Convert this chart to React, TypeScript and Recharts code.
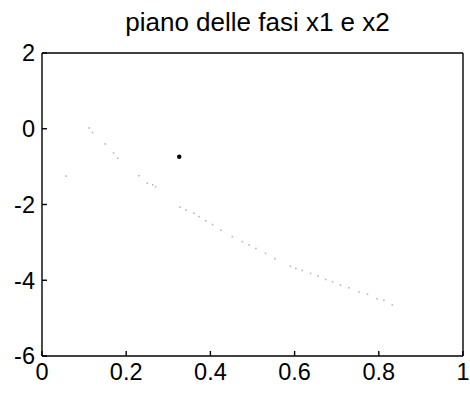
import React from 'react';
import { ScatterChart, Scatter, XAxis, YAxis } from 'recharts';

const curveX = [0.112, 0.12, 0.15, 0.17, 0.18, 0.23, 0.25, 0.263, 0.27, 0.328, 0.342, 0.361, 0.373, 0.389, 0.405, 0.425, 0.452, 0.476, 0.492, 0.508, 0.531, 0.553, 0.59, 0.603, 0.618, 0.638, 0.656, 0.674, 0.69, 0.709, 0.729, 0.753, 0.773, 0.796, 0.812, 0.832, 0.057];
const curveY = [0.02, -0.1, -0.4, -0.64, -0.78, -1.24, -1.44, -1.48, -1.53, -2.07, -2.15, -2.23, -2.32, -2.43, -2.53, -2.68, -2.85, -2.98, -3.07, -3.16, -3.29, -3.43, -3.63, -3.69, -3.74, -3.82, -3.89, -3.98, -4.04, -4.13, -4.2, -4.31, -4.37, -4.49, -4.53, -4.65, -1.25];
const pointX = [0.326];
const pointY = [-0.74];
const xTicks = [0, 0.2, 0.4, 0.6, 0.8, 1];
const yTicks = [-6, -4, -2, 0, 2];
const title = 'piano delle fasi x1 e x2';

const curveData = curveX.map((x, i) => ({ x, y: curveY[i] }));
const pointData = pointX.map((x, i) => ({ x, y: pointY[i] }));

const SmallDot = (props: any) => (
  <rect x={props.cx - 0.8} y={props.cy - 0.8} width={1.6} height={1.6} fill="#b8b8b8" />
);
const BigDot = (props: any) => (
  <circle cx={props.cx} cy={props.cy} r={2.2} fill="#000" />
);

const fontFamily = '"Liberation Sans", Arial, sans-serif';
const tickStyle = { fill: '#000', fontSize: 23.5, fontFamily };
const axisLine = { stroke: '#000', strokeWidth: 1.4 };

export default function App() {
  return (
    <div style={{ position: 'absolute', left: 0, top: 0, width: 470, height: 396, background: '#fff' }}>
      <div style={{ position: 'absolute', left: 0, top: 7, width: 515, textAlign: 'center', fontFamily, fontSize: 26, color: '#000', lineHeight: '30px' }}>
        {title}
      </div>
      <ScatterChart width={470} height={396} margin={{ top: 0, right: 0, bottom: 0, left: 0 }}>
        <XAxis xAxisId="b" type="number" dataKey="x" domain={[0, 1]} ticks={xTicks} orientation="bottom" height={40}
          tickSize={-5} tickMargin={12} tick={tickStyle} axisLine={axisLine} tickLine={axisLine}
          tickFormatter={(v: number) => String(v)} allowDataOverflow />
        <XAxis xAxisId="t" type="number" dataKey="x" domain={[0, 1]} ticks={xTicks} orientation="top" height={53}
          tickSize={-5} tick={false} axisLine={axisLine} tickLine={axisLine} allowDataOverflow />
        <YAxis yAxisId="l" type="number" dataKey="y" domain={[-6, 2]} ticks={yTicks} orientation="left" width={42}
          tickSize={-5} tickMargin={12} tick={tickStyle} axisLine={axisLine} tickLine={axisLine} allowDataOverflow />
        <YAxis yAxisId="r" type="number" dataKey="y" domain={[-6, 2]} ticks={yTicks} orientation="right" width={7}
          tickSize={-5} tick={false} axisLine={axisLine} tickLine={axisLine} allowDataOverflow />
        <Scatter xAxisId="b" yAxisId="l" data={curveData} shape={SmallDot} isAnimationActive={false} />
        <Scatter xAxisId="b" yAxisId="l" data={pointData} shape={BigDot} isAnimationActive={false} />
      </ScatterChart>
    </div>
  );
}
